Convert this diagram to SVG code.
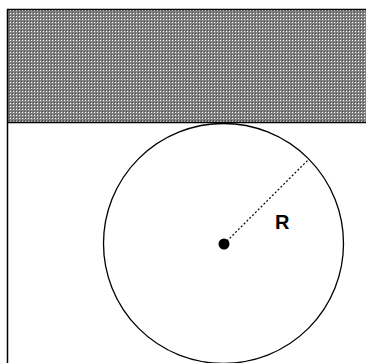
<svg xmlns="http://www.w3.org/2000/svg" width="366" height="363" viewBox="0 0 366 363">
<defs>
<pattern id="hatch" width="3" height="3" patternUnits="userSpaceOnUse">
<rect width="3" height="3" fill="#808080"/>
<rect x="1" y="1" width="1" height="1" fill="#ffffff"/>
<rect x="0" y="0" width="1" height="1" fill="#505050"/>
</pattern>
<style>
.edge{fill:none;stroke:#000;stroke-width:1.5}
.circ{fill:none;stroke:#000;stroke-width:1.3}
.rad{stroke:#000;stroke-width:1.2;stroke-dasharray:2,2}
.lbl{font-family:"Liberation Sans",Arial,sans-serif;font-size:20px;font-weight:bold;fill:#000}
</style>
</defs>
<rect width="366" height="363" fill="#fff"/>
<g id="wall">
<rect x="7.5" y="9.5" width="359" height="113" fill="url(#hatch)"/>
<path class="edge" d="M366 9.5 H7.5 V363 M7.5 122.5 H366"/>
</g>
<g id="circle">
<circle class="circ" cx="223.5" cy="243.5" r="120"/>
</g>
<g id="connectors">
<line class="rad" x1="224" y1="244" x2="308" y2="160"/>
</g>
<g id="center">
<circle cx="224" cy="244" r="5.5" fill="#000"/>
</g>
<g id="label">
<text class="lbl" x="275" y="229">R</text>
</g>
</svg>
